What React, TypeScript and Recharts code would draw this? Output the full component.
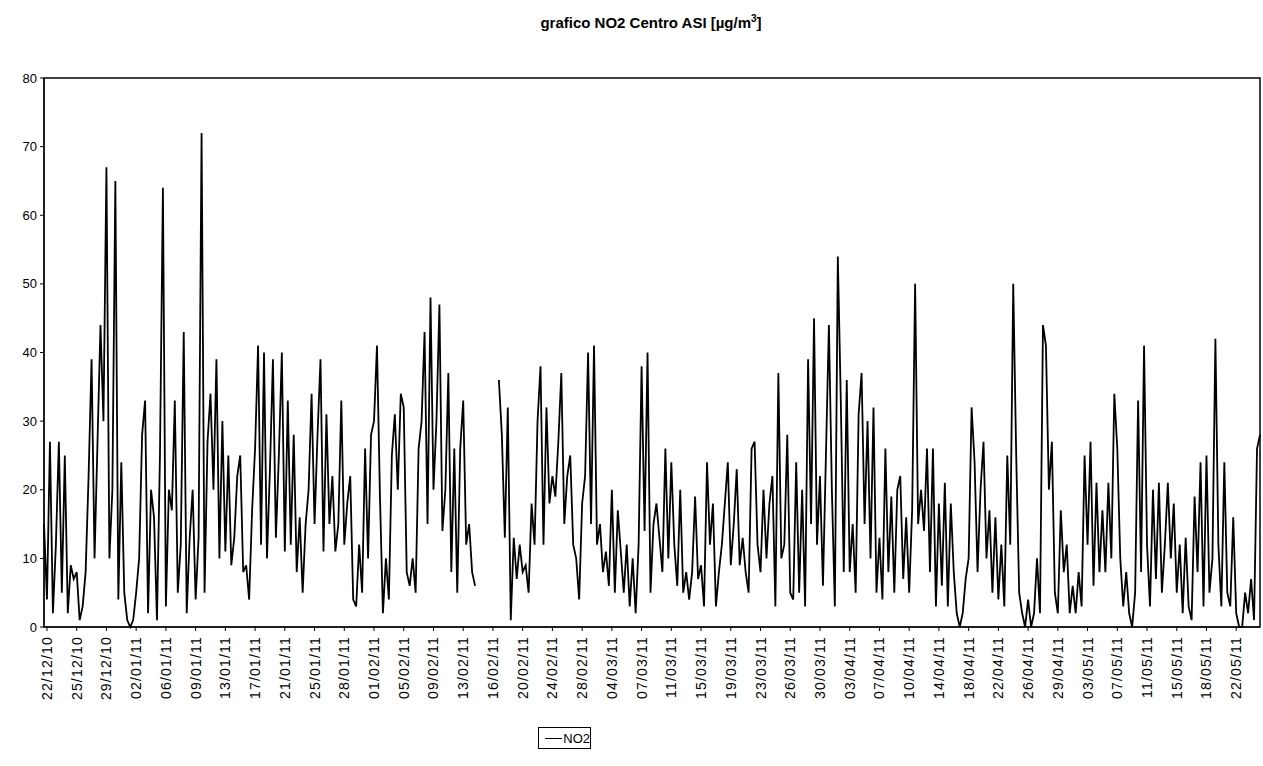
import React from 'react';
import { LineChart, Line, XAxis, YAxis, ReferenceArea } from 'recharts';

// x-axis labels, one every 10 samples (first one at sample 1)
const tickLabels = [
  '22/12/10', '25/12/10', '29/12/10', '02/01/11', '06/01/11', '09/01/11', '13/01/11',
  '17/01/11', '21/01/11', '25/01/11', '28/01/11', '01/02/11', '05/02/11', '09/02/11',
  '13/02/11', '16/02/11', '20/02/11', '24/02/11', '28/02/11', '04/03/11', '07/03/11',
  '11/03/11', '15/03/11', '19/03/11', '23/03/11', '26/03/11', '30/03/11', '03/04/11',
  '07/04/11', '10/04/11', '14/04/11', '18/04/11', '22/04/11', '26/04/11', '29/04/11',
  '03/05/11', '07/05/11', '11/05/11', '15/05/11', '18/05/11', '22/05/11',
];

const yTicks = [0, 10, 20, 30, 40, 50, 60, 70, 80];

// NO2 readings (µg/m³), split by month
const no2Dec = [
  15, 4, 27, 2, 12, 27, 5, 25, 2, 9, 7, 8, 1, 3, 8, 22, 39, 10, 27, 44,
  30, 67, 10, 20, 65, 4, 24, 5, 1, 0, 1,
];
const no2Jan = [
  5, 10, 28, 33, 2, 20, 16, 1, 25, 64, 3, 20, 17, 33, 5, 12, 43, 2, 13, 20,
  4, 13, 72, 5, 27, 34, 20, 39, 10, 30, 11, 25, 9, 13, 22, 25, 8, 9, 4, 17,
  26, 41, 12, 40, 10, 23, 39, 13, 25, 40, 11, 33, 12, 28, 8, 16, 5, 15, 20, 34,
  15, 28, 39, 11, 31, 15, 22, 11, 15, 33, 12, 18, 22, 4, 3, 12, 5, 26, 10, 28,
];
const no2Feb = [
  30, 41, 19, 2, 10, 4, 25, 31, 20, 34, 32, 8, 6, 10, 5, 26, 30, 43, 15, 48,
  20, 30, 47, 14, 20, 37, 8, 26, 5, 26, 33, 12, 15, 8, 6,
  null, null, null, null, null, null, null,
  36, 28, 13, 32, 1, 13, 7, 12, 8, 9, 5, 18, 12, 30, 38, 12, 32, 18, 22, 19,
  27, 37, 15, 22, 25, 12, 10, 4, 18, 22, 40, 15, 41, 12, 15, 8, 11, 6,
];
const no2Mar = [
  20, 5, 17, 11, 5, 12, 3, 10, 2, 12, 38, 14, 40, 5, 15, 18, 13, 8, 26, 10,
  24, 12, 6, 20, 5, 8, 4, 8, 19, 7, 9, 3, 24, 12, 18, 3, 8, 12, 18, 24,
  9, 15, 23, 9, 13, 8, 5, 26, 27, 12, 8, 20, 10, 18, 22, 3, 37, 10, 12, 28,
  5, 4, 24, 5, 20, 3, 39, 15, 45, 12, 22, 6, 25, 44, 20, 3, 54, 33, 8, 36,
];
const no2Apr = [
  8, 15, 5, 31, 37, 15, 30, 10, 32, 5, 13, 4, 26, 8, 19, 5, 20, 22, 7, 16,
  5, 17, 50, 15, 20, 14, 26, 8, 26, 3, 18, 6, 21, 3, 18, 8, 2, 0, 2, 7,
  10, 32, 24, 8, 20, 27, 10, 17, 5, 16, 4, 12, 3, 25, 12, 50, 25, 5, 2, 0,
  4, 0, 2, 10, 2, 44, 41, 20, 27, 5, 2, 17, 8, 12, 2, 6, 2, 8, 3, 25,
];
const no2May = [
  12, 27, 6, 21, 8, 17, 8, 21, 10, 34, 26, 10, 3, 8, 2, 0, 5, 33, 8, 41,
  12, 3, 20, 7, 21, 5, 12, 21, 10, 18, 5, 12, 2, 13, 3, 1, 19, 8, 24, 3,
  25, 5, 10, 42, 12, 3, 24, 5, 3, 16, 2, 0, 0, 5, 2, 7, 1, 26, 28,
];

const values = [...no2Dec, ...no2Jan, ...no2Feb, ...no2Mar, ...no2Apr, ...no2May];
const data = values.map((v, i) => ({ i, no2: v }));
const lastIndex = values.length - 1;
const xTicks = tickLabels.map((_, k) => 1 + k * 10);

const FONT = '"Liberation Sans", Arial, sans-serif';

const DateTick = (props: any) => {
  const { x, y, payload } = props;
  const label = tickLabels[(payload.value - 1) / 10];
  return (
    <text
      x={x}
      y={y}
      transform={`rotate(-90, ${x}, ${y})`}
      textAnchor="end"
      dominantBaseline="central"
      fontSize={14}
      letterSpacing={1.2}
      fontFamily={FONT}
      fill="#000"
    >
      {label}
    </text>
  );
};

export default function App() {
  return (
    <div style={{ position: 'absolute', left: 0, top: 0, width: 1263, height: 766, background: '#fff', fontFamily: FONT }}>
      <div
        style={{
          position: 'absolute', left: 651, top: 13, transform: 'translateX(-50%)',
          whiteSpace: 'nowrap', fontSize: 15, fontWeight: 'bold', color: '#000',
        }}
      >
        grafico NO2 Centro ASI [µg/m<sup style={{ fontSize: 10 }}>3</sup>]
      </div>

      <LineChart
        width={1263}
        height={766}
        data={data}
        margin={{ top: 78, right: 3, left: 14, bottom: 69 }}
      >
        <XAxis
          dataKey="i"
          type="number"
          domain={[0, lastIndex]}
          ticks={xTicks}
          interval={0}
          height={70}
          tick={<DateTick />}
          tickSize={4}
          tickMargin={5}
          axisLine={{ stroke: '#000' }}
          tickLine={{ stroke: '#000' }}
        />
        <YAxis
          domain={[0, 80]}
          ticks={yTicks}
          interval={0}
          width={30}
          tickSize={4}
          tickMargin={3}
          axisLine={{ stroke: '#000' }}
          tickLine={{ stroke: '#000' }}
          tick={{ fill: '#000', fontSize: 13, fontFamily: FONT }}
        />
        <ReferenceArea x1={0} x2={lastIndex} y1={0} y2={80} fill="none" stroke="#000" strokeWidth={1.5} ifOverflow="visible" />
        <Line
          type="linear"
          dataKey="no2"
          stroke="#000"
          strokeWidth={1.8}
          strokeLinejoin="miter"
          dot={false}
          connectNulls={false}
          isAnimationActive={false}
        />
      </LineChart>

      <div
        style={{
          position: 'absolute', left: 538, top: 727, width: 53, height: 22,
          border: '1px solid #000', display: 'flex', alignItems: 'center',
          fontSize: 13, color: '#000', boxSizing: 'border-box',
        }}
      >
        <span style={{ display: 'inline-block', width: 21, borderTop: '1.5px solid #000', marginLeft: 6, marginRight: 1 }} />
        NO2
      </div>
    </div>
  );
}
